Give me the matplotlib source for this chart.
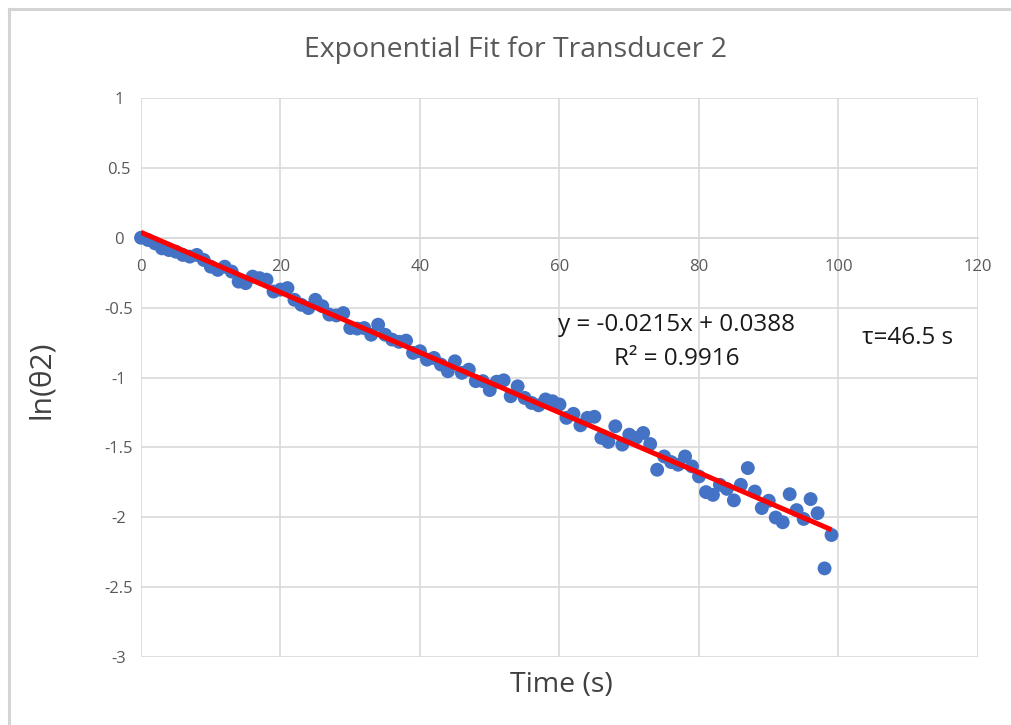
import matplotlib
matplotlib.use("Agg")
import matplotlib.pyplot as plt
from matplotlib.lines import Line2D
import numpy as np

# Measured decay of transducer 2: time (s) and ln(theta2)
time_s = list(range(100))
ln_theta = [
    0.0, -0.016, -0.04, -0.076, -0.088, -0.10, -0.123, -0.135, -0.123, -0.159,
    -0.207, -0.23, -0.207, -0.242, -0.314, -0.325, -0.278, -0.289, -0.30, -0.385,
    -0.371, -0.36, -0.444, -0.48, -0.503, -0.444, -0.49, -0.55, -0.556, -0.539,
    -0.646, -0.65, -0.646, -0.694, -0.622, -0.694, -0.729, -0.745, -0.736, -0.824,
    -0.812, -0.872, -0.86, -0.907, -0.955, -0.884, -0.967, -0.944, -1.026, -1.026,
    -1.09, -1.03, -1.02, -1.134, -1.063, -1.146, -1.182, -1.199, -1.157, -1.17,
    -1.193, -1.289, -1.26, -1.342, -1.289, -1.281, -1.432, -1.461, -1.349, -1.48,
    -1.409, -1.432, -1.397, -1.476, -1.66, -1.565, -1.605, -1.624, -1.565, -1.636,
    -1.708, -1.82, -1.84, -1.768, -1.797, -1.879, -1.768, -1.648, -1.816, -1.934,
    -1.882, -2.002, -2.036, -1.835, -1.949, -2.012, -1.87, -1.971, -2.366, -2.127,
]

# Linear trendline parameters
slope = -0.0215
intercept = 0.0388
r_squared = 0.9916
tau = 46.5

x_ticks = [0, 20, 40, 60, 80, 100, 120]
y_ticks = [1, 0.5, 0, -0.5, -1, -1.5, -2, -2.5, -3]

plt.rcParams['font.family'] = ['Open Sans', 'DejaVu Sans']

fig = plt.figure(figsize=(10.12, 7.25), dpi=100)
ax = fig.add_axes([141 / 1012, 1 - 657 / 725, (978 - 141) / 1012, (657 - 98) / 725])

grid_col = '#d9d9d9'
tick_col = '#595959'

ax.set_xlim(0, 120)
ax.set_ylim(-3, 1)
ax.set_xticks(x_ticks)
ax.set_yticks(y_ticks)
ax.set_xticklabels([str(v) for v in x_ticks])
ax.set_yticklabels([f"{v:g}" for v in y_ticks], ha='center')
ax.grid(True, color=grid_col, linewidth=1.2, zorder=0)
ax.set_axisbelow(True)
for s in ['top', 'right', 'left']:
    ax.spines[s].set_visible(False)
ax.spines['bottom'].set_position(('data', 0))
ax.spines['bottom'].set_color(grid_col)
ax.spines['bottom'].set_linewidth(1.2)
ax.tick_params(axis='both', length=0, labelsize=12, labelcolor=tick_col)
ax.tick_params(axis='x', pad=15)
ax.tick_params(axis='y', pad=16)

ax.scatter(time_s, ln_theta, s=100, color='#4472C4', edgecolors='none',
           zorder=3, clip_on=False)

fit_x = np.array([time_s[0], time_s[-1]])
ax.plot(fit_x, slope * fit_x + intercept, color='#FF0000', linewidth=3.6,
        zorder=4, solid_capstyle='butt')

ax.text(76.8, -0.625, f"y = {slope}x + {intercept}", ha='center', va='center',
        fontsize=17.5, color='#1a1a1a')
ax.text(76.8, -0.865, f"R² = {r_squared}", ha='center', va='center',
        fontsize=17.5, color='#1a1a1a')
ax.text(103.3, -0.72, f"τ={tau} s", ha='left', va='center',
        fontsize=17.5, color='#1a1a1a')

fig.text(516 / 1012, 1 - 50 / 725, "Exponential Fit for Transducer 2",
         ha='center', va='center', fontsize=20.5, color=tick_col)
fig.text(561 / 1012, 1 - 685 / 725, "Time (s)", ha='center', va='center',
         fontsize=20.5, color='#404040')
fig.text(42 / 1012, 1 - 380 / 725, "ln(θ2)", ha='center', va='center',
         fontsize=21.5, color='#404040', rotation=90)

# Chart frame along the left and top edges
frame_col = '#d4d4d4'
fig.add_artist(Line2D([9.5 / 1012, 9.5 / 1012], [0, 1 - 9 / 725],
                      transform=fig.transFigure, color=frame_col, linewidth=2.2))
fig.add_artist(Line2D([9.5 / 1012, 1], [1 - 9 / 725, 1 - 9 / 725],
                      transform=fig.transFigure, color=frame_col, linewidth=2.2))

fig.savefig('out.png', dpi=100, facecolor='white')
